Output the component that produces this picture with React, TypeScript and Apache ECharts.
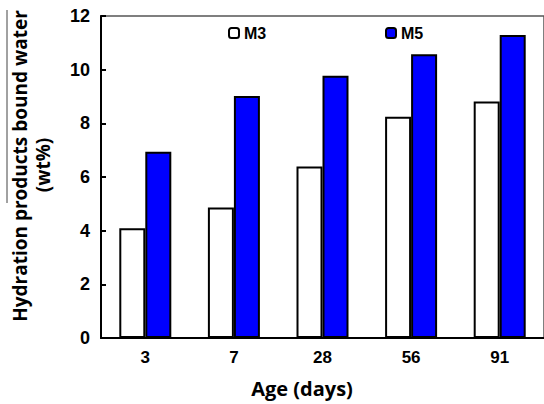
import React, { useEffect, useRef } from "react";
import * as echarts from "echarts";

const categories = ["3", "7", "28", "56", "91"];
const m3Values = [4.09, 4.86, 6.39, 8.25, 8.81];
const m5Values = [6.94, 9.02, 9.77, 10.57, 11.29];
const yTicks = { min: 0, max: 12, interval: 2 };

export default function App() {
  const ref = useRef<HTMLDivElement>(null);
  useEffect(() => {
    if (!ref.current) return;
    const chart = echarts.init(ref.current, null, { renderer: "svg" });
    const legendText = {
      fontFamily: "'Liberation Sans Narrow', 'Arial Narrow', Arial, sans-serif",
      fontWeight: "bold" as const,
      fontSize: 16,
      color: "#000",
    };
    const titleFont = {
      fontFamily: "'Open Sans', Lato, sans-serif",
      fontWeight: "bold" as const,
      fontSize: 19,
      fill: "#000",
      textAlign: "center" as const,
      textVerticalAlign: "middle" as const,
    };
    chart.setOption({
      animation: false,
      backgroundColor: "#fff",
      grid: {
        left: 101,
        top: 16,
        width: 445,
        height: 322,
        show: true,
        borderColor: "#555",
        borderWidth: 1.5,
        containLabel: false,
      },
      legend: [
        {
          data: ["M3"],
          left: 228,
          top: 25,
          itemWidth: 10,
          itemHeight: 10,
          itemGap: 4,
          textStyle: legendText,
          padding: 0,
        },
        {
          data: ["M5"],
          left: 385,
          top: 25,
          itemWidth: 10,
          itemHeight: 10,
          itemGap: 4,
          textStyle: legendText,
          padding: 0,
        },
      ],
      xAxis: {
        type: "category",
        data: categories,
        axisLine: { lineStyle: { color: "#000", width: 2 } },
        axisTick: { inside: true, length: 5, lineStyle: { color: "#000", width: 2 } },
        axisLabel: {
          color: "#000",
          fontSize: 17,
          fontWeight: "bold",
          fontFamily: "Arial, 'Liberation Sans', sans-serif",
          margin: 11,
        },
      },
      yAxis: {
        type: "value",
        min: yTicks.min,
        max: yTicks.max,
        interval: yTicks.interval,
        splitLine: { show: false },
        axisLine: { show: true, lineStyle: { color: "#000", width: 2 } },
        axisTick: { show: true, inside: true, length: 5, lineStyle: { color: "#000", width: 2 } },
        axisLabel: {
          color: "#000",
          fontSize: 18,
          fontWeight: "bold",
          fontFamily: "Arial, 'Liberation Sans', sans-serif",
          margin: 11,
        },
      },
      series: [
        {
          name: "M3",
          type: "bar",
          data: m3Values,
          barWidth: 26,
          barGap: "0%",
          itemStyle: { color: "#ffffff", borderColor: "#000", borderWidth: 2 },
        },
        {
          name: "M5",
          type: "bar",
          data: m5Values,
          barWidth: 26,
          barGap: "0%",
          itemStyle: { color: "#0000ff", borderColor: "#000", borderWidth: 2 },
        },
      ],
      graphic: [
        {
          type: "line",
          shape: { x1: 7, y1: 10, x2: 7, y2: 203 },
          style: { stroke: "#444", lineWidth: 1 },
        },
        {
          type: "text",
          x: 20,
          y: 166,
          rotation: Math.PI / 2,
          style: { ...titleFont, text: "Hydration products bound water" },
        },
        {
          type: "text",
          x: 43,
          y: 165,
          rotation: Math.PI / 2,
          style: { ...titleFont, text: "(wt%)" },
        },
        {
          type: "text",
          x: 302,
          y: 388,
          style: { ...titleFont, fontSize: 20, text: "Age (days)" },
        },
      ],
    });
    return () => chart.dispose();
  }, []);
  return (
    <div
      ref={ref}
      style={{ position: "absolute", left: 0, top: 0, width: 544, height: 404 }}
    />
  );
}
